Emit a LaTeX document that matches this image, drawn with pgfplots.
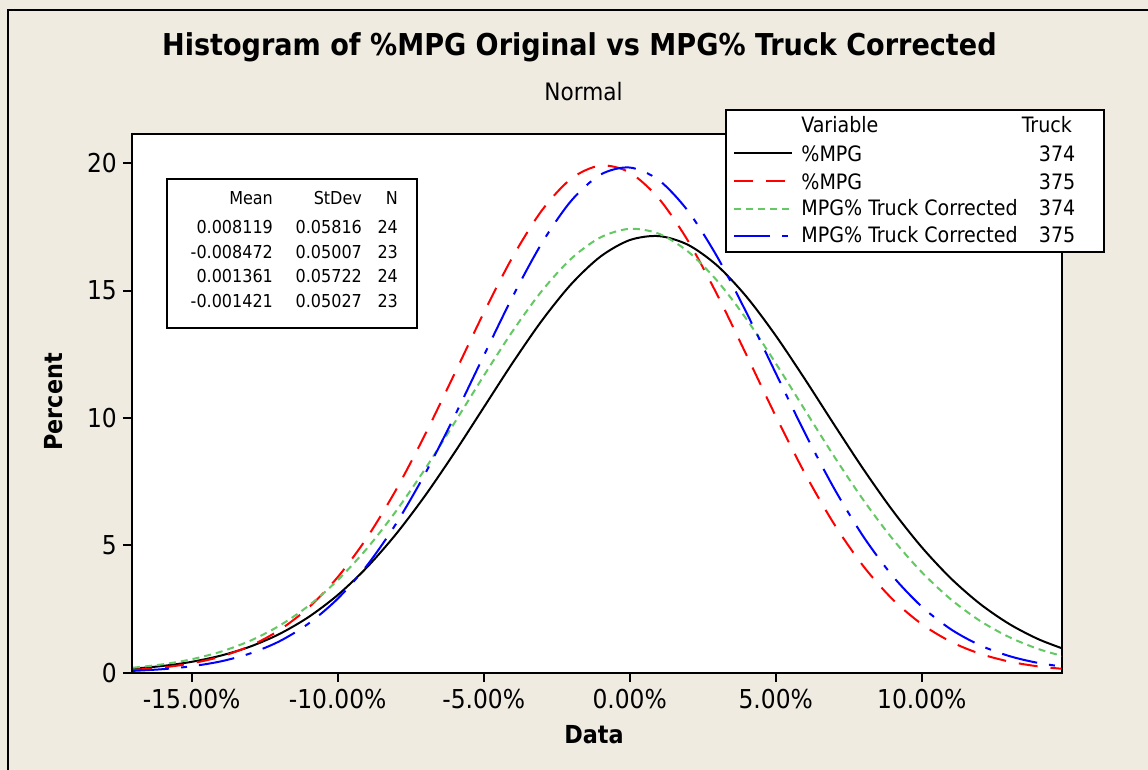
\documentclass[border=0pt]{standalone}
\usepackage{fontspec}
\setmainfont{DejaVu Sans Condensed}
\usepackage{pgfplots}
\usepackage{pgfplotstable}
\pgfplotsset{compat=1.18}

\definecolor{mtbg}{RGB}{239,235,225}
\definecolor{mtgreen}{RGB}{100,200,100}

% fitted normal curves, percent per 0.025 bin
% s1: %MPG 374, s2: %MPG 375, s3: MPG% corr 374, s4: MPG% corr 375
\pgfplotstableread{
x      s1      s2      s3      s4
-0.17  0.158   0.110   0.197   0.072
-0.16  0.263   0.204   0.327   0.137
-0.15  0.426   0.367   0.527   0.252
-0.14  0.670   0.632   0.824   0.444
-0.13  1.022   1.047   1.250   0.753
-0.12  1.515   1.667   1.839   1.228
-0.11  2.181   2.550   2.623   1.925
-0.10  3.046   3.747   3.630   2.901
-0.09  4.132   5.291   4.872   4.201
-0.08  5.442   7.180   6.343   5.847
-0.07  6.958   9.362   8.009   7.824
-0.06  8.637   11.730  9.808   10.062
-0.05  10.409  14.122  11.650  12.438
-0.04  12.179  16.337  13.423  14.779
-0.03  13.834  18.160  14.999  16.880
-0.02  15.257  19.398  16.257  18.530
-0.01  16.337  19.910  17.090  19.553
0.00   16.983  19.636  17.425  19.832
0.01   17.140  18.609  17.232  19.334
0.02   16.795  16.945  16.529  18.118
0.03   15.977  14.828  15.378  16.319
0.04   14.757  12.467  13.877  14.129
0.05   13.232  10.072  12.145  11.758
0.06   11.520  7.819   10.310  9.405
0.07   9.737   5.833   8.489   7.231
0.08   7.990   4.181   6.779   5.344
0.09   6.366   2.880   5.251   3.796
0.10   4.924   1.906   3.945   2.592
0.11   3.698   1.212   2.874   1.701
0.12   2.696   0.741   2.031   1.073
0.13   1.908   0.435   1.393   0.651
0.14   1.311   0.245   0.926   0.379
0.15   0.875   0.133   0.597   0.213
}\curves

\tikzset{
  s1/.style={black, line width=1pt},
  s2/.style={red, line width=1pt, dash pattern=on 9.5pt off 6.5pt},
  s3/.style={mtgreen, line width=1pt, dash pattern=on 3.5pt off 2.5pt},
  s4/.style={blue, line width=1pt, dash pattern=on 18pt off 6pt on 3pt off 6pt},
}

\begin{document}
\begin{tikzpicture}
\path[use as bounding box, fill=mtbg] (0,0) rectangle (574pt,385pt);
\draw[line width=1pt] (4pt,-2pt) -- (4pt,380pt) -- (576pt,380pt);

\begin{axis}[
  at={(66.15pt,48.65pt)}, anchor=south west,
  scale only axis, width=464.7pt, height=269.5pt,
  xmin=-0.1703, xmax=0.1479, ymin=0, ymax=21.16,
  axis background/.style={fill=white},
  axis line style={line width=1pt},
  tick align=outside, xtick pos=bottom, ytick pos=left,
  major tick length=4.75pt,
  tick style={line width=1pt, black},
  xtick={-0.15,-0.1,-0.05,0,0.05,0.1},
  xticklabels={-15.00\%,-10.00\%,-5.00\%,0.00\%,5.00\%,10.00\%},
  ytick={0,5,10,15,20},
  /pgf/number format/assume math mode=true,
  ticklabel style={font=\fontsize{13}{15}\selectfont, inner sep=0pt},
  xticklabel style={anchor=base, yshift=-13.4pt},
  yticklabel style={anchor=east, xshift=-2.8pt},
]
\addplot[s1, smooth] table[x=x, y=s1] {\curves};
\addplot[s2, smooth] table[x=x, y=s2] {\curves};
\addplot[s3, smooth] table[x=x, y=s3] {\curves};
\addplot[s4, smooth] table[x=x, y=s4] {\curves};
\end{axis}

\begin{scope}[x=0.5pt, y=-0.5pt, shift={(0pt,385pt)}, every node/.style={inner sep=0pt}]
  % titles and axis labels
  \node[anchor=base, font=\bfseries\fontsize{15.05}{17}\selectfont] at (579.4,56)
    {Histogram of \%MPG Original vs MPG\% Truck Corrected};
  \node[anchor=base, font=\fontsize{12}{14}\selectfont] at (583.5,101) {Normal};
  \node[anchor=base, font=\bfseries\fontsize{12.4}{14}\selectfont] at (594,743.3) {Data};
  \node[anchor=base, rotate=90, font=\bfseries\fontsize{12.4}{14}\selectfont] at (62.5,402) {Percent};

  % stats table
  \draw[line width=1pt, fill=white] (167.3,179.3) rectangle (416.7,327.7);
  \begin{scope}[every node/.style={inner sep=0pt, anchor=base east, font=\fontsize{8.9}{10}\selectfont}]
    \node at (273.3,205) {Mean};      \node at (362.3,205) {StDev};   \node at (398.3,205) {N};
    \node at (273.3,233.3) {0.008119};  \node at (362.3,233.3) {0.05816}; \node at (398.3,233.3) {24};
    \node at (273.3,258.3) {-0.008472}; \node at (362.3,258.3) {0.05007}; \node at (398.3,258.3) {23};
    \node at (273.3,282.7) {0.001361};  \node at (362.3,282.7) {0.05722}; \node at (398.3,282.7) {24};
    \node at (273.3,307.3) {-0.001421}; \node at (362.3,307.3) {0.05027}; \node at (398.3,307.3) {23};
  \end{scope}

  % legend
  \draw[line width=1pt, fill=white] (725.7,110) rectangle (1104.3,251.7);
  \begin{scope}[every node/.style={inner sep=0pt, font=\fontsize{10.6}{12}\selectfont}]
    \node[anchor=base west] at (801,133) {Variable};
    \node[anchor=base east] at (1072.3,133) {Truck};
    \draw[s1] (734,153.3) -- (792,153.3);
    \node[anchor=base west] at (801,161.5) {\%MPG};
    \node[anchor=base east] at (1075.7,161.5) {374};
    \draw[s2] (734,181) -- (792,181);
    \node[anchor=base west] at (801,189.3) {\%MPG};
    \node[anchor=base east] at (1075.7,189.3) {375};
    \draw[s3] (734,209.3) -- (792,209.3);
    \node[anchor=base west] at (801,216) {MPG\% Truck Corrected};
    \node[anchor=base east] at (1075.7,216) {374};
    \draw[s4] (734,236) -- (792,236);
    \node[anchor=base west] at (801,242.7) {MPG\% Truck Corrected};
    \node[anchor=base east] at (1075.7,242.7) {375};
  \end{scope}
\end{scope}
\end{tikzpicture}
\end{document}
